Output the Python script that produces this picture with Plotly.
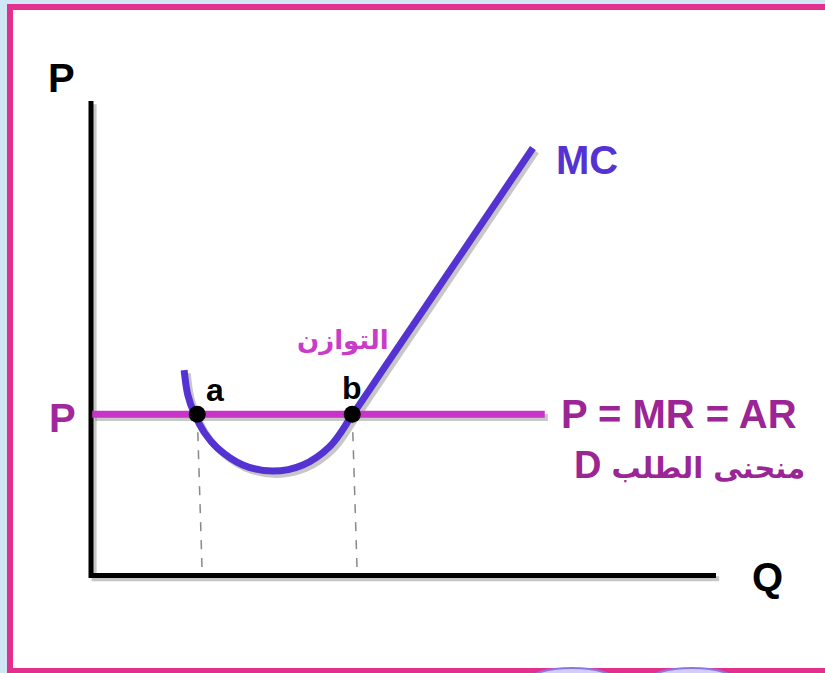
import plotly.graph_objects as go

# ---- data (in chart units: origin at the axes corner) ----
axis_q = [0, 10]
axis_p = [0, 10]
price_level = 3.40
demand_q = [0.02, 7.26]

mc_q = [1.49, 1.55, 1.65, 1.82, 2.02, 2.43, 2.91, 3.39, 3.82, 4.18, 4.78, 5.90, 7.07]
mc_p = [4.33, 3.80, 3.42, 3.00, 2.69, 2.33, 2.20, 2.33, 2.72, 3.38, 4.55, 6.73, 9.01]

eq_names = ["a", "b"]
eq_q = [1.70, 4.18]
drop_q = [1.78, 4.26]

MC_COL = "#5433d2"
D_COL = "#c833c8"
TXT_COL = "#9b2594"
SHADOW = "rgba(0,0,0,0.22)"
dx, dy = 0.05, -0.07

fig = go.Figure()

# shadows
fig.add_trace(go.Scatter(x=[axis_q[0] + dx, axis_q[0] + dx, axis_q[1] + dx],
                         y=[axis_p[1] + dy, axis_p[0] + dy, axis_p[0] + dy],
                         mode="lines", line=dict(color=SHADOW, width=5), hoverinfo="skip"))
fig.add_trace(go.Scatter(x=[q + dx for q in demand_q], y=[price_level + dy] * 2,
                         mode="lines", line=dict(color=SHADOW, width=7), hoverinfo="skip"))
fig.add_trace(go.Scatter(x=[q + dx for q in mc_q], y=[p + dy for p in mc_p],
                         mode="lines", line=dict(color=SHADOW, width=7, shape="spline", smoothing=1.0),
                         hoverinfo="skip"))

# axes
fig.add_trace(go.Scatter(x=[axis_q[0], axis_q[0], axis_q[1]],
                         y=[axis_p[1], axis_p[0], axis_p[0]],
                         mode="lines", line=dict(color="black", width=5), hoverinfo="skip"))

# dashed drop lines
for q0, q1 in zip(eq_q, drop_q):
    fig.add_trace(go.Scatter(x=[q0, q1], y=[price_level, axis_p[0]], mode="lines",
                             line=dict(color="#888888", width=1.5, dash="dash"), hoverinfo="skip"))

# demand line
fig.add_trace(go.Scatter(x=demand_q, y=[price_level] * 2, mode="lines",
                         line=dict(color=D_COL, width=7), hoverinfo="skip"))

# MC curve
fig.add_trace(go.Scatter(x=mc_q, y=mc_p, mode="lines",
                         line=dict(color=MC_COL, width=7, shape="spline", smoothing=1.0),
                         hoverinfo="skip"))

# equilibrium points
fig.add_trace(go.Scatter(x=eq_q, y=[price_level] * 2, mode="markers",
                         marker=dict(color="black", size=17, symbol="circle"), hoverinfo="skip"))

BOLD = "Liberation Sans, Arial, sans-serif"
ann = [
    dict(x=-0.48, y=10.48, text="<b>P</b>", font=dict(size=40, color="black", family=BOLD)),
    dict(x=10.82, y=-0.03, text="<b>Q</b>", font=dict(size=40, color="black", family=BOLD)),
    dict(x=-0.46, y=3.32, text="<b>P</b>", font=dict(size=40, color="#a0289c", family=BOLD)),
    dict(x=7.93, y=8.76, text="<b>MC</b>", font=dict(size=40, color=MC_COL, family=BOLD)),
    dict(x=7.48, y=3.40, text="<b>P = MR = AR</b>", xanchor="left",
         font=dict(size=40, color=TXT_COL, family=BOLD)),
    dict(x=9.58, y=2.33,
         text="<b><span style='font-family:Liberation Sans;font-size:38px'>D</span> منحنى الطلب</b>",
         font=dict(size=29, color=TXT_COL, family="DejaVu Sans, sans-serif")),
    dict(x=4.03, y=4.96, text="<b>التوازن</b>",
         font=dict(size=26, color="#c83cc8", family="DejaVu Sans, sans-serif")),
    dict(x=1.98, y=3.91, text="<b>" + eq_names[0] + "</b>", font=dict(size=32, color="black", family=BOLD)),
    dict(x=4.18, y=3.95, text="<b>" + eq_names[1] + "</b>", font=dict(size=32, color="black", family=BOLD)),
]
for a in ann:
    a.setdefault("xanchor", "center")
    fig.add_annotation(showarrow=False, yanchor="middle", **a)

W, H = 825, 673
shapes = [
    dict(type="rect", xref="paper", yref="paper", x0=10 / W, x1=1.05, y0=1 - 671 / H, y1=1 - 7 / H,
         line=dict(color="#e3308f", width=6), fillcolor="white", layer="below"),
    dict(type="circle", xref="paper", yref="paper", x0=527 / W, x1=617 / W, y0=1 - 696 / H, y1=1 - 668 / H,
         line=dict(color="#8a78e2", width=2), fillcolor="#d4cdf7", layer="above"),
    dict(type="circle", xref="paper", yref="paper", x0=647 / W, x1=737 / W, y0=1 - 696 / H, y1=1 - 668 / H,
         line=dict(color="#8a78e2", width=2), fillcolor="#d4cdf7", layer="above"),
]

ox, oy, sx, sy = 91, 575.5, 62.5, 47.45
fig.update_layout(
    width=W, height=H, margin=dict(l=0, r=0, t=0, b=0),
    paper_bgcolor="#cfe7f5", plot_bgcolor="rgba(0,0,0,0)",
    showlegend=False, shapes=shapes,
    xaxis=dict(range=[-ox / sx, (W - ox) / sx], visible=False, fixedrange=True),
    yaxis=dict(range=[-(H - oy) / sy, oy / sy], visible=False, fixedrange=True),
)

fig.write_html("out.html", config={"displayModeBar": False},
               post_script="document.body.style.margin='0';document.body.style.overflow='hidden';"
                           "document.body.style.background='#cfe7f5';")
